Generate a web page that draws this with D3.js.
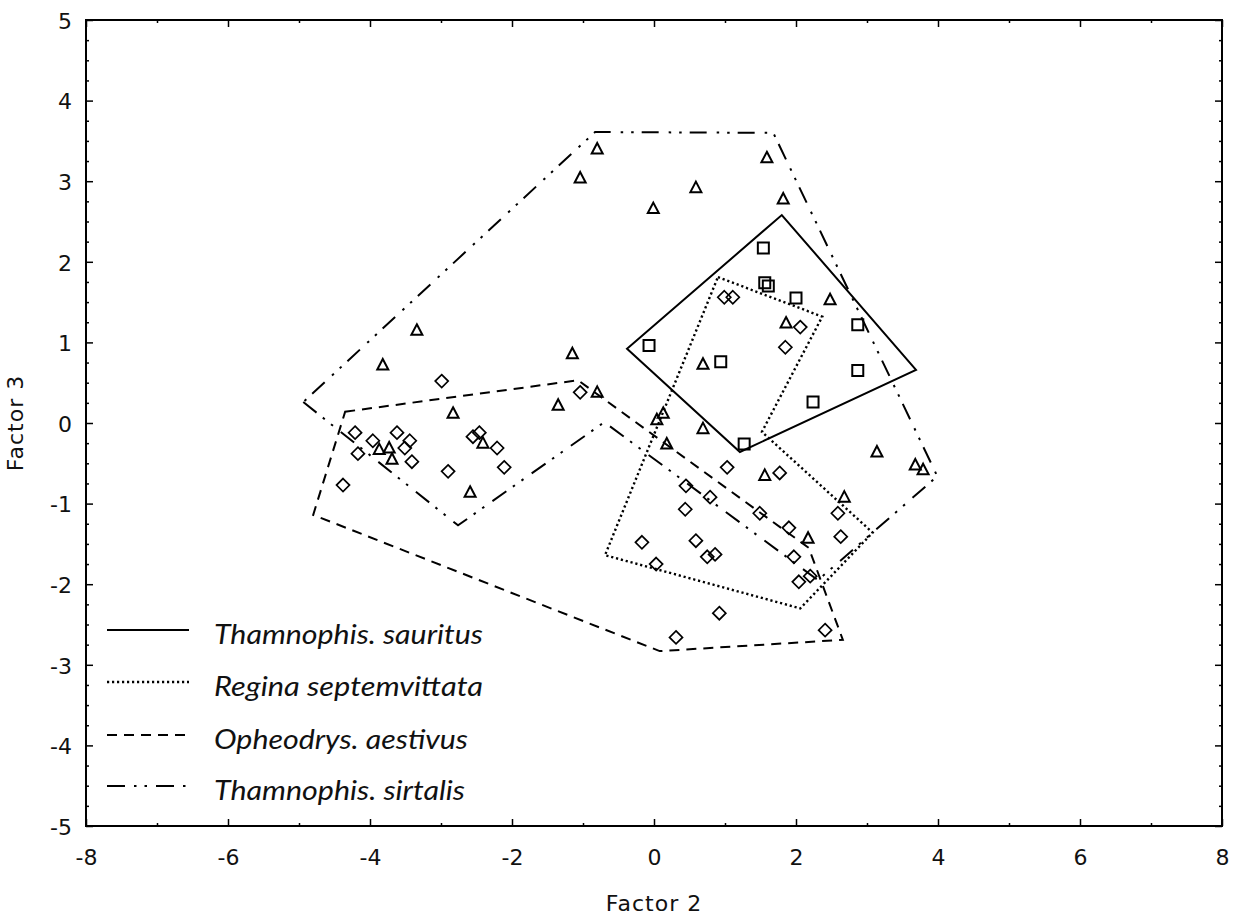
<!DOCTYPE html>
<html>
<head>
<meta charset="utf-8">
<script src="https://cdn.jsdelivr.net/npm/d3@7"></script>
<style>
  html, body { margin: 0; padding: 0; background: #fff; }
  svg { display: block; }
</style>
</head>
<body>
<svg id="chart" width="1241" height="921"></svg>
<script>
// ---------------- data ----------------
const xTicks = [-8, -6, -4, -2, 0, 2, 4, 6, 8];
const yTicks = [-5, -4, -3, -2, -1, 0, 1, 2, 3, 4, 5];
const xLabel = "Factor 2";
const yLabel = "Factor 3";
const seriesNames = ["Thamnophis. sauritus", "Regina septemvittata", "Opheodrys. aestivus", "Thamnophis. sirtalis"];

// Thamnophis sauritus (squares)
const sauritusPts = [
  [1.54, 2.17], [1.56, 1.74], [1.61, 1.70], [2.00, 1.55], [2.87, 1.22],
  [-0.07, 0.96], [0.94, 0.76], [2.87, 0.65], [2.24, 0.26], [1.27, -0.26]
];
// Thamnophis sirtalis (triangles)
const sirtalisPts = [
  [-0.80, 3.40], [-1.04, 3.04], [-0.01, 2.66], [0.59, 2.92], [1.59, 3.29], [1.82, 2.78],
  [-3.34, 1.15], [-3.82, 0.72], [-1.15, 0.86], [2.48, 1.53], [1.86, 1.24], [0.69, 0.73],
  [-0.80, 0.38], [-1.35, 0.22], [-2.83, 0.12], [0.13, 0.12], [0.04, 0.04], [0.69, -0.07],
  [0.18, -0.26], [3.14, -0.36], [3.68, -0.52], [3.79, -0.58], [1.56, -0.65], [2.68, -0.92],
  [2.17, -1.43], [-3.87, -0.33], [-3.73, -0.31], [-3.69, -0.45], [-2.41, -0.25], [-2.59, -0.86]
];
// Opheodrys aestivus (diamonds)
const opheodrysPts = [
  [-2.99, 0.52], [-1.04, 0.38], [-4.21, -0.12], [-3.96, -0.22], [-4.17, -0.38], [-3.62, -0.12],
  [-3.44, -0.22], [-3.51, -0.31], [-3.41, -0.48], [-4.38, -0.77], [-2.90, -0.60], [-2.55, -0.17],
  [-2.46, -0.12], [-2.21, -0.31], [-2.11, -0.55], [0.92, -2.36], [0.31, -2.66], [2.41, -2.57]
];
// Regina septemvittata (diamonds)
const reginaPts = [
  [0.99, 1.56], [1.11, 1.56], [2.06, 1.19], [1.85, 0.94], [1.03, -0.55], [1.77, -0.62],
  [0.45, -0.78], [0.79, -0.92], [0.44, -1.07], [1.49, -1.12], [1.90, -1.30], [2.59, -1.12],
  [2.63, -1.41], [-0.17, -1.48], [0.59, -1.46], [0.75, -1.66], [0.86, -1.63], [0.03, -1.75],
  [1.97, -1.66], [2.04, -1.97], [2.20, -1.90]
];

// group outlines
const sauritusHull = [[1.80, 2.58], [3.69, 0.66], [1.21, -0.36], [-0.38, 0.92]];
const reginaHull = [[0.90, 1.81], [2.37, 1.32], [1.52, -0.11], [3.08, -1.36], [2.06, -2.30], [-0.69, -1.64]];
const opheodrysHull = [[-4.35, 0.14], [-1.07, 0.53], [2.18, -1.55], [2.66, -2.69], [0.08, -2.83], [-4.80, -1.14]];
const sirtalisHull = [[-4.94, 0.26], [-2.76, -1.27], [-0.70, 0.01], [2.31, -1.95], [3.99, -0.66], [1.68, 3.60], [-0.83, 3.61]];

// ---------------- drawing ----------------
const svg = d3.select("#chart");
const L = 86, R = 1222, T = 20, B = 826;
const x = d3.scaleLinear().domain([-8, 8]).range([L, R]);
const y = d3.scaleLinear().domain([-5, 5]).range([B, T]);

const tickFont = "'DejaVu Sans', sans-serif";
const fmt = d => String(d);

const styles = {
  sauritus: { dash: null, width: 2 },
  regina: { dash: "2.2,2.8", width: 2.4 },
  opheodrys: { dash: "10,7", width: 2 },
  sirtalis: { dash: "17,8,2.5,8,2.5,10", width: 2 }
};

// outlines
const line = d3.line().x(d => x(d[0])).y(d => y(d[1])).curve(d3.curveLinearClosed);
const hulls = [
  ["sauritus", sauritusHull], ["regina", reginaHull],
  ["opheodrys", opheodrysHull], ["sirtalis", sirtalisHull]
];
svg.append("g").selectAll("path").data(hulls).join("path")
  .attr("d", d => line(d[1]))
  .attr("fill", "none")
  .attr("stroke", "#000")
  .attr("stroke-width", d => styles[d[0]].width)
  .attr("stroke-dasharray", d => styles[d[0]].dash)
  .attr("stroke-linejoin", "miter");

// markers
const gPts = svg.append("g").attr("fill", "none").attr("stroke", "#000").attr("stroke-width", 2);
gPts.selectAll("path.sq").data(sauritusPts).join("path").attr("class", "sq")
  .attr("d", d => `M${x(d[0]) - 5.5},${y(d[1]) - 5.5}h11v11h-11Z`);
gPts.selectAll("path.tri").data(sirtalisPts).join("path").attr("class", "tri")
  .attr("d", d => `M${x(d[0])},${y(d[1]) - 6}L${x(d[0]) + 5.5},${y(d[1]) + 4.5}L${x(d[0]) - 5.5},${y(d[1]) + 4.5}Z`)
  .attr("stroke-linejoin", "miter");
const diamond = d => `M${x(d[0])},${y(d[1]) - 6.5}L${x(d[0]) + 6.5},${y(d[1])}L${x(d[0])},${y(d[1]) + 6.5}L${x(d[0]) - 6.5},${y(d[1])}Z`;
gPts.selectAll("path.dmo").data(opheodrysPts).join("path").attr("class", "dmo").attr("d", diamond).attr("stroke-width", 1.7);
gPts.selectAll("path.dmr").data(reginaPts).join("path").attr("class", "dmr").attr("d", diamond).attr("stroke-width", 1.7);

// axes (inward ticks on all sides)
const minorX = d3.range(-7, 8, 2);
const minorY = d3.range(-5, 5.001, 0.25).filter(v => Math.abs(v - Math.round(v)) > 1e-6);

function styleAxis(g) {
  g.select(".domain").remove();
  g.selectAll(".tick line").attr("stroke", "#000").attr("stroke-width", 1.5);
}

const xAxis = svg.append("g").attr("transform", `translate(0,${B})`)
  .call(d3.axisBottom(x).tickValues(xTicks).tickSizeInner(-7).tickSizeOuter(0).tickFormat(fmt));
styleAxis(xAxis);
xAxis.selectAll("text").attr("y", 39).attr("dy", 0)
  .attr("font-family", tickFont).attr("font-size", 22).attr("fill", "#111");

const yAxis = svg.append("g").attr("transform", `translate(${L},0)`)
  .call(d3.axisLeft(y).tickValues(yTicks).tickSizeInner(-7).tickSizeOuter(0).tickFormat(fmt));
styleAxis(yAxis);
yAxis.selectAll("text").attr("x", -14).attr("dy", "0.38em")
  .attr("font-family", tickFont).attr("font-size", 22).attr("fill", "#111");

const xTop = svg.append("g").attr("transform", `translate(0,${T})`)
  .call(d3.axisTop(x).tickValues(xTicks).tickSizeInner(-7).tickSizeOuter(0).tickFormat(""));
styleAxis(xTop);
const yRight = svg.append("g").attr("transform", `translate(${R},0)`)
  .call(d3.axisRight(y).tickValues(yTicks).tickSizeInner(-7).tickSizeOuter(0).tickFormat(""));
styleAxis(yRight);

// minor ticks
const minor = [
  [d3.axisBottom(x).tickValues(minorX), `translate(0,${B})`],
  [d3.axisTop(x).tickValues(minorX), `translate(0,${T})`],
  [d3.axisLeft(y).tickValues(minorY), `translate(${L},0)`],
  [d3.axisRight(y).tickValues(minorY), `translate(${R},0)`]
];
minor.forEach(([ax, tr]) => {
  const g = svg.append("g").attr("transform", tr)
    .call(ax.tickSizeInner(-3).tickSizeOuter(0).tickFormat(""));
  styleAxis(g);
});

// frame
svg.append("rect").attr("x", L).attr("y", T).attr("width", R - L).attr("height", B - T)
  .attr("fill", "none").attr("stroke", "#000").attr("stroke-width", 2);

// axis titles
svg.append("text").attr("x", (L + R) / 2).attr("y", 911).attr("text-anchor", "middle")
  .attr("font-family", tickFont).attr("font-size", 22).attr("letter-spacing", 1).attr("fill", "#111").text(xLabel);
svg.append("text").attr("transform", `translate(23,${(T + B) / 2}) rotate(-90)`).attr("text-anchor", "middle")
  .attr("font-family", tickFont).attr("font-size", 22).attr("letter-spacing", 1).attr("fill", "#111").text(yLabel);

// legend
const legendKeys = ["sauritus", "regina", "opheodrys", "sirtalis"];
const legendLineY = [630, 682, 735, 786];
const legendTextW = [269, 269, 254, 251];
const lg = svg.append("g");
legendKeys.forEach((k, i) => {
  lg.append("line").attr("x1", 107).attr("x2", 189)
    .attr("y1", legendLineY[i]).attr("y2", legendLineY[i])
    .attr("stroke", "#000").attr("stroke-width", styles[k].width)
    .attr("stroke-dasharray", k === "sirtalis" ? "18,9,2.5,8,2.5,9" : styles[k].dash);
  lg.append("text").attr("x", 214).attr("y", legendLineY[i] + 14)
    .attr("font-family", "Lato, 'Open Sans', sans-serif").attr("font-style", "italic")
    .attr("font-size", 27).attr("fill", "#111")
    .attr("textLength", legendTextW[i]).attr("lengthAdjust", "spacingAndGlyphs")
    .text(seriesNames[i]);
});
</script>
</body>
</html>
